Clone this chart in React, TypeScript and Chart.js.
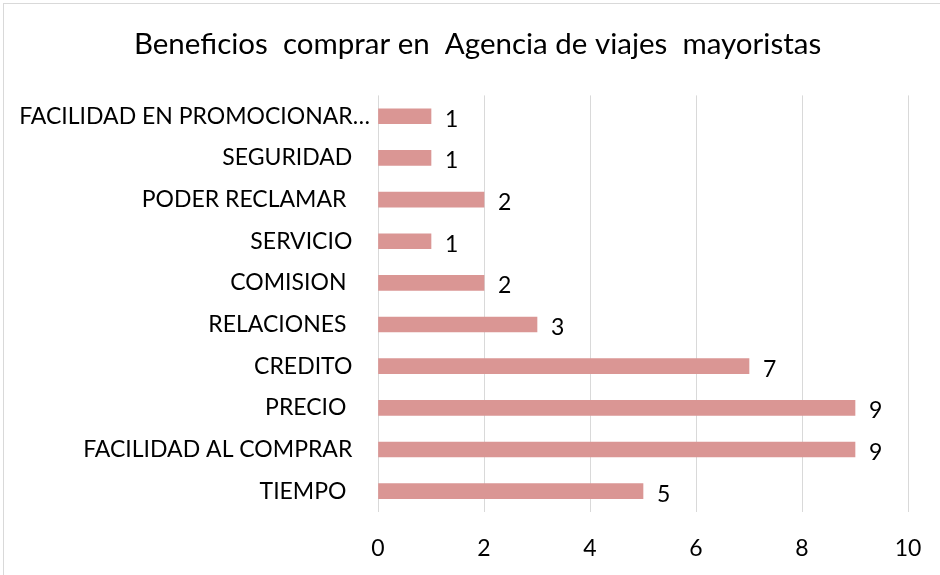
import React, { useEffect, useRef } from "react";
import { Chart, registerables } from "chart.js";

Chart.register(...registerables);

const TITLE = "  Beneficios  comprar en  Agencia de viajes  mayoristas";
const categories = [
  "FACILIDAD EN PROMOCIONAR…",
  "SEGURIDAD",
  "PODER RECLAMAR ",
  "SERVICIO",
  "COMISION ",
  "RELACIONES ",
  "CREDITO",
  "PRECIO ",
  "FACILIDAD AL COMPRAR",
  "TIEMPO ",
];
const values = [1, 1, 2, 1, 2, 3, 7, 9, 9, 5];
const xTicks = [0, 2, 4, 6, 8, 10];

const FONT = "Lato, 'Open Sans', sans-serif";
const LABEL_SIZE = 23;
const TITLE_SIZE = 29.5;
const BAR_COLOR = "#DA9694";

function padFor(label: string): string {
  if (label.endsWith("…")) return label;
  const c = document.createElement("canvas").getContext("2d") as CanvasRenderingContext2D;
  c.font = `${LABEL_SIZE}px ${FONT}`;
  const sw = c.measureText(" ").width || 5;
  const n = Math.max(1, Math.round(18 / sw));
  return label + " ".repeat(n);
}

const valueLabels = {
  id: "valueLabels",
  afterDatasetsDraw(chart: any) {
    const ctx = chart.ctx;
    const meta = chart.getDatasetMeta(0);
    ctx.save();
    ctx.font = `${LABEL_SIZE}px ${FONT}`;
    ctx.fillStyle = "#000";
    ctx.textAlign = "left";
    ctx.textBaseline = "middle";
    meta.data.forEach((bar: any, i: number) => {
      ctx.fillText(String(values[i]), bar.x + 14, bar.y + 3);
    });
    ctx.restore();
  },
};

const frame = {
  id: "frame",
  beforeDraw(chart: any) {
    const ctx = chart.ctx;
    ctx.save();
    ctx.fillStyle = "#fff";
    ctx.fillRect(0, 0, chart.width, chart.height);
    ctx.strokeStyle = "#d9d9d9";
    ctx.lineWidth = 1;
    ctx.strokeRect(3.5, 3.5, chart.width + 10, chart.height + 10);
    ctx.restore();
  },
};

export default function App() {
  const ref = useRef<HTMLCanvasElement | null>(null);
  useEffect(() => {
    document.body.style.margin = "0";
    const chart = new Chart(ref.current as HTMLCanvasElement, {
      type: "bar",
      data: {
        labels: categories,
        datasets: [
          {
            data: values,
            backgroundColor: BAR_COLOR,
            barThickness: 15,
          },
        ],
      },
      options: {
        indexAxis: "y",
        animation: false,
        responsive: false,
        layout: { padding: { left: 0, right: 0, top: 0, bottom: 13 } },
        plugins: {
          legend: { display: false },
          tooltip: { enabled: false },
          title: {
            display: true,
            text: TITLE,
            color: "#000",
            font: { family: FONT, size: TITLE_SIZE, weight: "normal" },
            padding: { top: 27, bottom: 33 },
          },
        },
        scales: {
          x: {
            min: 0,
            max: 10,
            afterBuildTicks: (s: any) => {
              s.ticks = xTicks.map((v) => ({ value: v }));
            },
            afterFit: (s: any) => {
              s.height = 50;
              s.paddingLeft = 0;
              s.paddingRight = 32;
            },
            grid: { color: "#d9d9d9", drawTicks: false },
            border: { display: false },
            ticks: {
              color: "#000",
              font: { family: FONT, size: LABEL_SIZE },
              padding: 23,
              maxRotation: 0,
            },
          },
          y: {
            afterFit: (s: any) => {
              s.width = 378;
            },
            grid: { display: false, drawTicks: false },
            border: { display: false },
            ticks: {
              color: "#000",
              font: { family: FONT, size: LABEL_SIZE },
              padding: 8,
              autoSkip: false,
              callback: (_v: any, i: number) => padFor(categories[i]),
            },
          },
        },
      },
      plugins: [frame, valueLabels],
    });
    return () => chart.destroy();
  }, []);
  return <canvas ref={ref} width={940} height={575} style={{ display: "block" }} />;
}
